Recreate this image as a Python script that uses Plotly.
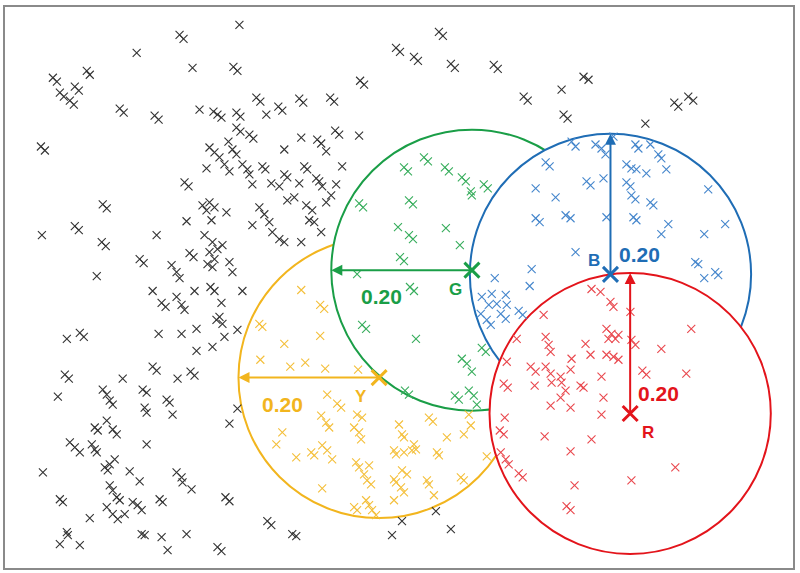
import numpy as np
import plotly.graph_objects as go

# === DATA ===
# point coordinates, recorded on a grid with 705 steps per unit
GRID = 705.0

black_x = [175, 179, 132, 188, 82, 85, 48, 52, 70, 74, 55, 59, 65, 69, 115, 119, 150, 154, 195, 36, 40, 180, 184,
           235, 392, 396, 229, 233, 356, 360, 252, 256, 295, 299, 326, 330, 274, 278, 262, 209, 213, 217, 232, 236,
           232, 236, 245, 249, 331, 335, 355, 297, 313, 317, 322, 280, 224, 205, 210, 215, 220, 225, 228, 232, 202,
           238, 243, 245, 258, 261, 280, 283, 300, 303, 312, 315, 338, 332, 267, 275, 295, 318, 248,
           435, 439, 410, 414, 447, 451, 490, 494, 520, 524, 558, 580, 585, 560, 564,
           642, 671, 675, 685, 690,
           98, 102, 70, 74, 37, 97, 101, 152, 182, 185, 189, 135, 139, 167, 172, 175, 92, 148, 157, 161, 172, 177,
           180, 190, 62, 75, 79, 154, 177, 192, 192, 148, 152, 173, 186, 190, 60, 64, 118,
           198, 205, 210, 202, 207, 222, 255, 260, 265, 248, 283, 290, 302, 308, 322, 327, 268, 275, 280, 297, 317,
           305, 310, 200, 208, 213, 218, 205, 210, 203, 208, 225, 228, 206, 210, 238, 217, 215, 218, 212, 233, 220, 208,
           53, 98, 102, 105, 108, 138, 142, 162, 165, 168, 140, 142, 90, 93, 102, 108, 112, 142, 65, 70, 75, 87, 90,
           92, 38, 110, 105, 100, 103, 125, 135, 172, 177, 178, 187, 105, 108, 112, 115, 55, 58, 128, 133, 137, 155,
           158, 102, 108, 113, 120, 85, 62, 63, 137, 140, 157, 182, 55, 75, 163,
           233, 225, 221, 225, 263, 267, 288, 292, 213, 217, 388,
           398, 432, 447]
black_y = [535, 531, 517, 502, 499, 495, 492, 488, 483, 479, 477, 473, 469, 465, 461, 457, 454, 450, 460, 423, 419, 387, 383,
           545, 522, 518, 503, 499, 489, 485, 472, 468, 471, 467, 472, 468, 463, 459, 455, 458, 455, 452, 457, 453,
           442, 438, 435, 431, 439, 435, 434, 432, 430, 426, 418, 420, 428, 422, 417, 412, 405, 398, 420, 415, 401,
           405, 400, 395, 403, 400, 395, 392, 403, 400, 391, 388, 403, 385, 386, 383, 386, 383, 385,
           538, 534, 513, 509, 506, 502, 505, 501, 473, 469, 480, 493, 490, 455, 451,
           446, 467, 463, 473, 469,
           365, 361, 343, 339, 334, 327, 323, 334, 348, 316, 312, 310, 306, 304, 297, 291, 293, 278, 266, 262, 272, 264,
           259, 278, 230, 236, 232, 235, 235, 240, 218, 202, 198, 190, 197, 193, 194, 190, 190,
           364, 367, 362, 359, 349, 357, 362, 355, 347, 344, 369, 372, 364, 359, 367, 374, 337, 330, 327, 327, 337,
           349, 347, 334, 327, 320, 324, 317, 310, 305, 302, 307, 297, 282, 278, 278, 266, 252, 245, 249, 239, 232, 222,
           172, 179, 174, 168, 164, 179, 176, 169, 166, 154, 161, 156, 141, 138, 148, 139, 134, 124, 126, 121, 116, 124, 119,
           116, 96, 109, 104, 101, 98, 97, 87, 96, 91, 86, 79, 83, 78, 71, 68, 69, 66, 66, 63, 58, 69,
           66, 61, 54, 49, 54, 50, 36, 33, 34, 33, 31, 34, 24, 23, 18,
           160, 145, 71, 67, 47, 43, 34, 32, 21, 17, 33,
           47, 57, 39]

green_x = [420, 424, 400, 404, 441, 445, 458, 462, 480, 484, 467, 355, 359, 394, 353, 358, 362, 405, 409, 468,
           405, 409, 442, 456, 396, 400, 406, 410, 412, 478, 482, 458, 463, 468, 401, 405, 451, 455, 465, 470, 473]
green_y = [412, 408, 402, 398, 402, 398, 392, 388, 385, 381, 378, 366, 362, 342, 295, 244, 240, 369, 365, 374,
           334, 330, 341, 324, 312, 308, 282, 278, 230, 221, 217, 210, 205, 197, 178, 174, 173, 169, 178, 173, 164]

blue_x = [568, 572, 592, 542, 546, 532, 583, 587, 610, 598, 602, 600, 632, 635, 647, 655, 658, 623, 628, 633,
          643, 663, 623, 627, 705, 552, 532, 536, 562, 567, 572, 528, 491, 526, 478, 488, 502, 485, 493, 503,
          477, 483, 487, 497, 502, 515, 519, 628, 632, 647, 650, 603, 630, 633, 665, 658, 701, 722, 692, 695,
          712, 715, 701]
blue_y = [428, 423, 425, 407, 403, 381, 388, 384, 433, 421, 415, 391, 425, 421, 425, 415, 411, 405, 401, 400,
          396, 400, 387, 383, 380, 372, 351, 347, 354, 351, 317, 300, 291, 283, 272, 275, 274, 264, 265, 264,
          255, 249, 244, 255, 250, 258, 254, 374, 370, 367, 364, 352, 352, 349, 345, 335, 335, 345, 307, 305,
          297, 294, 291]

red_x = [540, 513, 542, 545, 547, 582, 587, 588, 503, 527, 532, 542, 547, 568, 567, 557, 597, 607, 610, 627,
         603, 608, 612, 615, 605, 628, 632, 688, 658, 603, 610, 615, 639, 643, 683, 598, 500, 504, 531, 548,
         558, 562, 557, 547, 567, 577, 580, 501, 496, 500, 541, 588, 567, 497, 502, 505, 515, 519, 571, 563,
         567, 600, 598, 672, 628]
red_y = [254, 230, 232, 224, 217, 225, 214, 280, 207, 202, 197, 202, 195, 210, 199, 192, 277, 267, 262, 257,
         240, 235, 230, 234, 230, 229, 224, 240, 220, 214, 212, 209, 198, 194, 195, 192, 185, 181, 183, 186,
         186, 178, 171, 163, 161, 183, 181, 151, 138, 134, 132, 129, 117, 116, 109, 104, 95, 91, 83, 62,
         58, 171, 154, 101, 88]

yellow_x = [297, 316, 320, 255, 258, 316, 280, 256, 286, 301, 321, 354, 323, 333, 337, 317, 322, 325, 353, 358,
            350, 355, 357, 278, 272, 307, 310, 318, 323, 328, 292, 352, 355, 365, 360, 363, 367, 390, 392, 390,
            392, 318, 362, 365, 368, 372, 350, 353, 390, 425, 429, 465, 467, 460, 443, 398, 400, 410, 412, 408,
            400, 433, 435, 483, 398, 403, 423, 425, 457, 460, 397, 400, 430, 395]
yellow_y = [279, 264, 260, 245, 242, 233, 225, 209, 202, 206, 200, 199, 174, 165, 161, 153, 146, 141, 154, 151,
            141, 136, 129, 136, 124, 116, 113, 123, 118, 109, 111, 106, 101, 103, 94, 88, 84, 118, 114, 89,
            86, 80, 68, 63, 58, 53, 61, 58, 68, 151, 147, 154, 143, 134, 131, 134, 131, 124, 119, 118,
            116, 116, 113, 112, 98, 94, 88, 84, 91, 88, 81, 76, 73, 144]

# cluster centres (data units) and the radius shown on the chart, in drawing order
names = ["Y", "G", "B", "R"]
center_x = [0.532, 0.664, 0.861, 0.889]
center_y = [0.271, 0.424, 0.418, 0.220]
RADIUS = 0.20
radius_dir = ["left", "left", "up", "up"]

# label offsets from centre: (radius text dx, dy), (letter dx, dy)
radius_label_off = [(-0.138, -0.038), (-0.128, -0.038), (0.041, 0.028), (0.041, 0.028)]
letter_off = [(-0.026, -0.027), (-0.023, -0.028), (-0.023, 0.020), (0.026, -0.027)]

ring_colors = ["#f2b51e", "#1a9e47", "#1f6db5", "#e3141b"]
point_colors = {"G": "#37ad5c", "Y": "#f4bf3a", "B": "#4586cc", "R": "#e9474d"}

X_MAX = 790 / GRID
Y_MAX = 563 / GRID

fig = go.Figure()


def add_points(xs, ys, color):
    fig.add_trace(go.Scatter(
        x=np.array(xs) / GRID, y=np.array(ys) / GRID,
        mode="markers",
        marker=dict(symbol="x-thin", size=8, line=dict(width=1.1, color=color)),
        hoverinfo="skip", showlegend=False,
    ))


add_points(black_x, black_y, "#333333")
add_points(green_x, green_y, point_colors["G"])
add_points(yellow_x, yellow_y, point_colors["Y"])
add_points(blue_x, blue_y, point_colors["B"])
add_points(red_x, red_y, point_colors["R"])

shapes = []
annotations = []
for i, name in enumerate(names):
    cx, cy, col = center_x[i], center_y[i], ring_colors[i]
    # white-filled rings, later ones cover the arcs of earlier ones
    shapes.append(dict(type="circle", xref="x", yref="y",
                       x0=cx - RADIUS, x1=cx + RADIUS, y0=cy - RADIUS, y1=cy + RADIUS,
                       line=dict(color=col, width=2), fillcolor="white", layer="below"))
    if radius_dir[i] == "left":
        hx, hy = cx - RADIUS, cy
    else:
        hx, hy = cx, cy + RADIUS
    annotations.append(dict(x=hx, y=hy, ax=cx, ay=cy, xref="x", yref="y", axref="x", ayref="y",
                            text="", showarrow=True, arrowhead=2, arrowsize=1.1, arrowwidth=2,
                            arrowcolor=col, standoff=0, startstandoff=0))
    rdx, rdy = radius_label_off[i]
    annotations.append(dict(x=cx + rdx, y=cy + rdy, xref="x", yref="y", text="<b>%.2f</b>" % RADIUS,
                            showarrow=False, font=dict(size=21, color=col, family="Arial, Liberation Sans")))
    ldx, ldy = letter_off[i]
    annotations.append(dict(x=cx + ldx, y=cy + ldy, xref="x", yref="y", text="<b>%s</b>" % name,
                            showarrow=False, font=dict(size=17, color=col, family="Arial, Liberation Sans")))

    fig.add_trace(go.Scatter(
        x=[cx], y=[cy], mode="markers",
        marker=dict(symbol="x-thin", size=15, line=dict(width=3, color=col)),
        hoverinfo="skip", showlegend=False,
    ))

fig.update_layout(
    width=800, height=573,
    margin=dict(l=5, r=5, t=5, b=5),
    paper_bgcolor="white", plot_bgcolor="white",
    shapes=shapes, annotations=annotations,
    xaxis=dict(range=[0, X_MAX], showgrid=False, zeroline=False, showticklabels=False, ticks="",
               showline=True, mirror=True, linecolor="#8a8a8a", linewidth=1.5),
    yaxis=dict(range=[0, Y_MAX], showgrid=False, zeroline=False, showticklabels=False, ticks="",
               showline=True, mirror=True, linecolor="#8a8a8a", linewidth=1.5),
)

# drop the page's default body margin so the figure sits at the window origin
fig.write_html("out.html", config={"displayModeBar": False},
               post_script="document.body.style.margin='0';")
